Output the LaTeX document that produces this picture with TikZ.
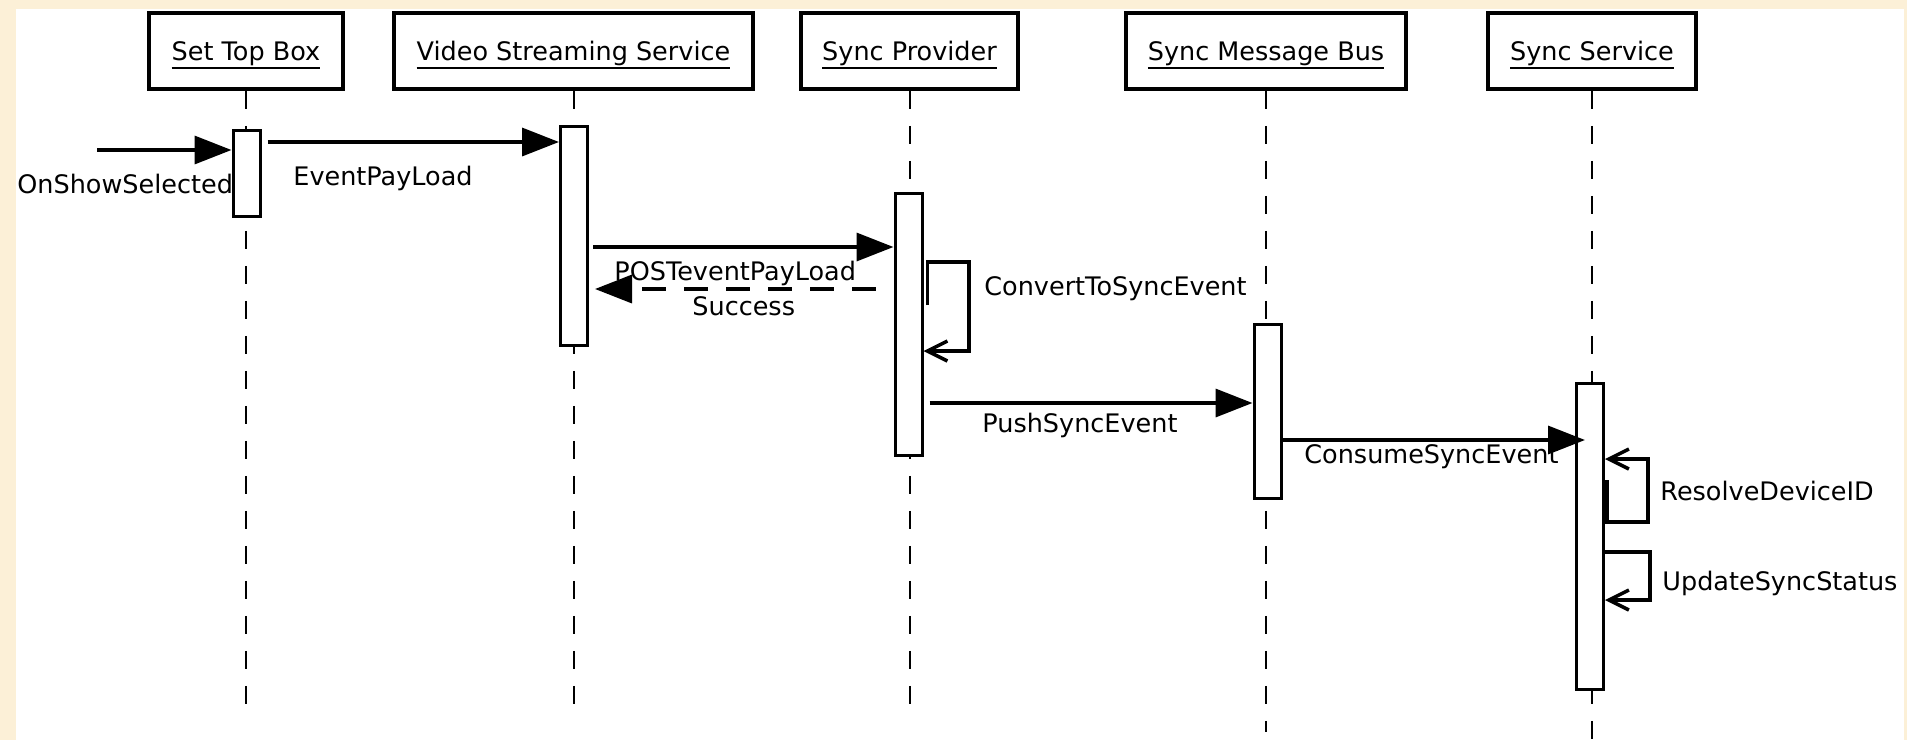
\documentclass[tikz,border=0pt]{standalone}
\usepackage{fontspec}
\setmainfont{DejaVu Sans}
\usetikzlibrary{arrows.meta}

\definecolor{bgcream}{RGB}{252,240,215}

% underlined participant name
\newcommand{\hdr}[1]{\setbox0=\hbox{#1}\rlap{\rule[-4pt]{\wd0}{1pt}}\box0}

\tikzset{
    header/.style={draw, line width=1.75pt, fill=white, inner sep=0pt, minimum height=38pt, text height=9.5pt, text depth=0pt},
    actbar/.style={draw, line width=1.5pt, fill=white, inner sep=0pt, minimum width=13.5pt},
    lifeline/.style={line width=1pt, dash pattern=on 9pt off 8.5pt},
    msg/.style={line width=1.75pt, -{Triangle[length=18.5pt,width=14pt]}},
    reply/.style={msg, dash pattern=on 12pt off 9pt},
    selfmsg/.style={line width=1.75pt, -{Straight Barb[length=10pt,width=10pt]}},
    lbl/.style={anchor=base west, inner sep=0pt},
}

\begin{document}
\begin{tikzpicture}[x=0.5pt, y=-0.5pt, every node/.style={font=\fontsize{12.75pt}{15pt}\selectfont}]

    % Background and paper
    \useasboundingbox (0,0) rectangle (1907,740);
    \fill[bgcream] (0,0) rectangle (1907,740);
    \fill[white] (16,9) rectangle (1904,740);

    % Draw the participant boxes
    \node[header, minimum width=97pt] (stb) at (246,51) {\hdr{Set Top Box}};
    \node[header, minimum width=179.5pt] (vss) at (573.5,51) {\hdr{Video Streaming Service}};
    \node[header, minimum width=108.5pt] (sp) at (909.5,51) {\hdr{Sync Provider}};
    \node[header, minimum width=140pt] (smb) at (1266,51) {\hdr{Sync Message Bus}};
    \node[header, minimum width=104pt] (ss) at (1592,51) {\hdr{Sync Service}};

    % Draw the lifelines
    \foreach \n/\e in {stb/715, vss/715, sp/705, smb/732, ss/740} {
        \draw[lifeline] (\n.south) -- (\n.south |- 0,\e);
    }

    % Incoming call label sits under the first bar
    \node[lbl] (lonshow) at (17,193) {OnShowSelected};

    % Activation bars
    \node[actbar, minimum height=43pt] (stbbar) at (246.5,173.5) {};
    \node[actbar, minimum height=109.5pt] (vssbar) at (574,236) {};
    \node[actbar, minimum height=131pt] (spbar) at (908.5,324.5) {};
    \node[actbar, minimum height=87pt] (smbbar) at (1267.5,411.5) {};
    \node[actbar, minimum height=153pt] (ssbar) at (1590,536.5) {};

    % Messages
    \coordinate (caller) at (97,150);
    \draw[msg] (caller) -- (stbbar.west |- caller);
    \draw[msg, shorten <=3pt] (stbbar.east |- 0,142) -- (vssbar.west |- 0,142);
    \draw[msg, shorten <=2pt] (vssbar.east |- 0,247) -- (spbar.west |- 0,247);
    \draw[reply, shorten <=9pt, shorten >=3pt] (spbar.west |- 0,289) -- (vssbar.east |- 0,289);
    \draw[selfmsg] (spbar.east |- 0,305) ++(4,0) |- (969,262) |- (spbar.east |- 0,351);
    \draw[msg, shorten <=3pt] (spbar.east |- 0,403) -- (smbbar.west |- 0,403);
    \draw[msg, shorten >=-5pt] (smbbar.east |- 0,440) -- (ssbar.west |- 0,440);
    \draw[selfmsg] (ssbar.east |- 0,480) ++(2,0) |- (1648,522) |- (ssbar.east |- 0,459);
    \draw[selfmsg] (ssbar.east |- 0,552) -| (1650,600) -- (ssbar.east |- 0,600);

    % Message labels
    \node[lbl] (levent) at (293,185) {EventPayLoad};
    \node[lbl] (lpost) at (614,280) {POSTeventPayLoad};
    \node[lbl] (lsuccess) at (692,315) {Success};
    \node[lbl] (lconvert) at (984,295) {ConvertToSyncEvent};
    \node[lbl] (lpush) at (982,432) {PushSyncEvent};
    \node[lbl] (lconsume) at (1304,463) {ConsumeSyncEvent};
    \node[lbl] (lresolve) at (1660,500) {ResolveDeviceID};
    \node[lbl] (lupdate) at (1662,590) {UpdateSyncStatus};

\end{tikzpicture}
\end{document}
